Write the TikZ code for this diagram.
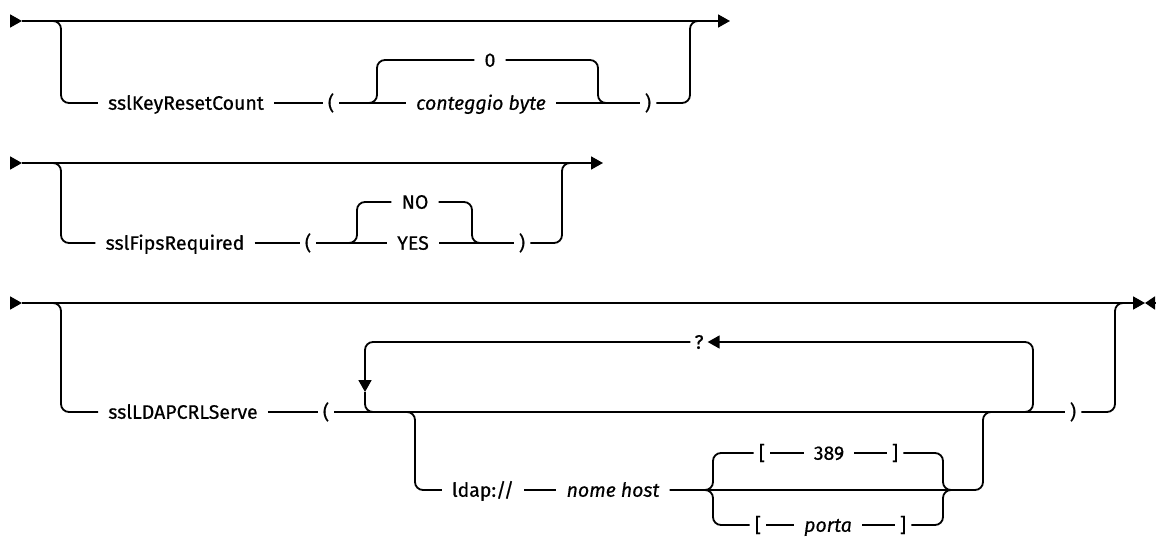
\documentclass[tikz,border=0pt]{standalone}
\usepackage{fontspec}
\setmainfont{Fira Sans}[UprightFeatures={FakeBold=0.5}, ItalicFeatures={FakeBold=0.5}]
\usetikzlibrary{arrows.meta}

\begin{document}
\begin{tikzpicture}[x=1pt, y=-1pt,
  rail/.style={line width=1.8pt, rounded corners=8pt},
  tip/.style={line width=1.8pt, rounded corners=8pt, -{Triangle[length=12pt, width=13pt]}},
  kw/.style={font=\fontsize{19.5}{22}\selectfont, inner xsep=10pt, inner ysep=0pt,
             text height=13.5pt, text depth=0pt},
  var/.style={kw, font=\fontsize{19.5}{22}\selectfont\itshape},
  sym/.style={kw, inner xsep=5pt}
]
  \useasboundingbox (0,0) rectangle (1156,537);

  % sslKeyResetCount
  \coordinate (a1) at (10,21);
  \coordinate (b1) at (22,21);
  \coordinate (e1) at (730,21);
  \coordinate (j1a) at (45,21);
  \coordinate (j1b) at (690,21);
  \coordinate (s1) at (368,103);
  \coordinate (m1) at (598,103);
  \node[kw] (key) at (186,103) {sslKeyResetCount};
  \node[sym] (lp1) at (331,103) {(};
  \node[kw] (zero) at (490,60) {0};
  \node[var] (cb) at (481,103) {conteggio byte};
  \node[sym] (rp1) at (648,103) {)};

  \draw[tip] (a1) -- (b1);
  \draw[tip] (b1) -- (e1);
  \draw[rail] (j1a) -- ++(16,0) |- (key);
  \draw[rail] (key) -- (lp1) -- (cb) -- (rp1);
  \draw[rail] (s1) -- ++(9,0) |- (zero);
  \draw[rail] (zero) -| (m1) -- ++(10,0);
  \draw[rail] (rp1) -| (j1b) -- ++(12,0);

  % sslFipsRequired
  \coordinate (a2) at (10,163);
  \coordinate (b2) at (22,163);
  \coordinate (e2) at (603,163);
  \coordinate (j2a) at (45,163);
  \coordinate (j2b) at (562,163);
  \coordinate (s2) at (349,243);
  \coordinate (m2) at (472,243);
  \node[kw] (fips) at (175,243) {sslFipsRequired};
  \node[sym] (lp2) at (308,243) {(};
  \node[kw] (no) at (415,202) {NO};
  \node[kw] (yes) at (413,243) {YES};
  \node[sym] (rp2) at (522,243) {)};

  \draw[tip] (a2) -- (b2);
  \draw[tip] (b2) -- (e2);
  \draw[rail] (j2a) -- ++(16,0) |- (fips);
  \draw[rail] (fips) -- (lp2) -- (yes) -- (rp2);
  \draw[rail] (s2) -- ++(8,0) |- (no);
  \draw[rail] (no) -| (m2) -- ++(10,0);
  \draw[rail] (rp2) -| (j2b) -- ++(12,0);

  % sslLDAPCRLServe
  \coordinate (a3) at (10,303);
  \coordinate (b3) at (22,303);
  \coordinate (e3) at (1145,303);
  \coordinate (f3) at (1156,303);
  \coordinate (j3a) at (45,303);
  \coordinate (j3b) at (1115,303);
  \coordinate (l3s) at (1015,412);
  \coordinate (l3d) at (365,392);
  \coordinate (l3e) at (392,412);
  \coordinate (s3) at (400,412);
  \coordinate (m3) at (983,412);
  \coordinate (bl) at (705,490);
  \coordinate (br) at (943,490);
  \node[kw] (crl) at (183,412) {sslLDAPCRLServe};
  \node[sym] (lp3) at (326,412) {(};
  \node[kw, inner xsep=4pt] (q) at (699,342) {?};
  \node[sym] (rp3) at (1073,412) {)};
  \node[kw] (ldap) at (483,490) {ldap://};
  \node[var] (host) at (613,490) {nome host};
  \node[sym] (lb1) at (762,453) {[};
  \node[kw] (n389) at (829,453) {389};
  \node[sym] (rb1) at (895,453) {]};
  \node[sym] (lb2) at (758,525) {[};
  \node[var] (porta) at (828,525) {porta};
  \node[sym] (rb2) at (903,525) {]};

  \draw[tip] (a3) -- (b3);
  \draw[tip] (b3) -- (e3);
  \draw[tip, -{Triangle[length=10pt, width=13pt]}] (f3) -- (e3);
  \draw[rail] (j3a) -- ++(16,0) |- (crl);
  \draw[rail] (crl) -- (lp3) -- (rp3);
  \draw[tip] (l3s) -- ++(18,0) |- (q);
  \draw[tip] (q) -| (l3d);
  \draw[rail] (l3d) |- (l3e);
  \draw[rail] (s3) -- ++(15,0) |- (ldap);
  \draw[rail] (ldap) -- (host);
  \draw[rail] (host) -| (m3) -- ++(12,0);
  \draw[rail] (bl) -- ++(8,0) |- (lb1);
  \draw[rail] (bl) -- ++(8,0) |- (lb2);
  \draw[rail] (lb1) -- (n389) -- (rb1);
  \draw[rail] (lb2) -- (porta) -- (rb2);
  \draw[rail] (rb1) -| (br) -- ++(10,0);
  \draw[rail] (rb2) -| (br) -- ++(10,0);
  \draw[rail] (rp3) -| (j3b) -- ++(12,0);
\end{tikzpicture}
\end{document}
